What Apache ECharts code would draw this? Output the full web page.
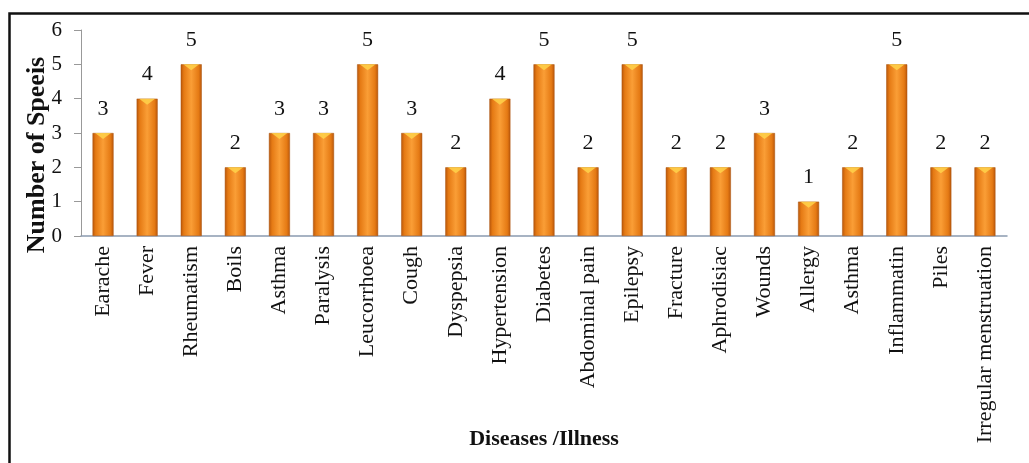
<!DOCTYPE html>
<html><head><meta charset="utf-8">
<script src="https://cdn.jsdelivr.net/npm/echarts@6/dist/echarts.min.js"></script>
<style>html,body{margin:0;padding:0;background:#fff}#c{width:1029px;height:463px}</style>
</head><body><div id="c"></div>
<script>
var categories = ["Earache","Fever","Rheumatism","Boils","Asthma","Paralysis","Leucorrhoea","Cough","Dyspepsia","Hypertension","Diabetes","Abdominal pain","Epilepsy","Fracture","Aphrodisiac","Wounds","Allergy","Asthma","Inflammatin","Piles","Irregular menstruation"];
var values = [3,4,5,2,3,3,5,3,2,4,5,2,5,2,2,3,1,2,5,2,2];
var yTicks = [0,1,2,3,4,5,6];

var chart = echarts.init(document.getElementById('c'));
var font = '"Liberation Serif","Times New Roman",serif';
chart.setOption({
  animation:false,
  graphic:[{type:'rect',shape:{x:9.5,y:13.5,width:1040,height:470},style:{fill:'none',stroke:'#111',lineWidth:2.5},z:-1}],
  grid:{left:81,right:22,top:30,bottom:227,containLabel:false,outerBoundsMode:'none'},
  xAxis:{type:'category',data:categories,
    axisLine:{lineStyle:{color:'#8a9bb0',width:1.5}},
    axisTick:{show:false},
    axisLabel:{rotate:90,interval:0,color:'#111',fontFamily:font,fontSize:22,margin:10},
    name:'Diseases /Illness',nameLocation:'middle',nameGap:192,nameMoveOverlap:false,
    nameTextStyle:{fontFamily:font,fontSize:22,fontWeight:'bold',color:'#111'}
  },
  yAxis:{type:'value',min:yTicks[0],max:yTicks[yTicks.length-1],interval:1,
    axisLine:{show:true,lineStyle:{color:'#999'}},
    axisTick:{show:true,inside:false,length:7,lineStyle:{color:'#999'}},
    splitLine:{show:false},
    axisLabel:{color:'#111',fontFamily:font,fontSize:21,margin:19},
    name:'Number of Speeis',nameLocation:'middle',nameGap:31,nameMoveOverlap:false,
    nameTextStyle:{fontFamily:font,fontSize:26,fontWeight:'bold',color:'#111',padding:[0,44,0,0]}
  },
  series:[{type:'bar',data:values,barWidth:21,
    itemStyle:{color:new echarts.graphic.LinearGradient(0,0,1,0,[
      {offset:0,color:'#b8560a'},{offset:0.15,color:'#e57a14'},{offset:0.5,color:'#fa9e36'},{offset:0.85,color:'#e57a14'},{offset:1,color:'#b8560a'}]),
      borderColor:'#a9520f',borderWidth:0.5},
    label:{show:true,position:'top',distance:13,color:'#111',fontFamily:font,fontSize:22}
  },
  {type:'scatter',data:values,symbol:'triangle',symbolRotate:180,symbolSize:[16,6],symbolOffset:[0,3],
    itemStyle:{color:'#ffd24a',opacity:0.85},silent:true,z:3}
  ]
});
</script></body></html>
